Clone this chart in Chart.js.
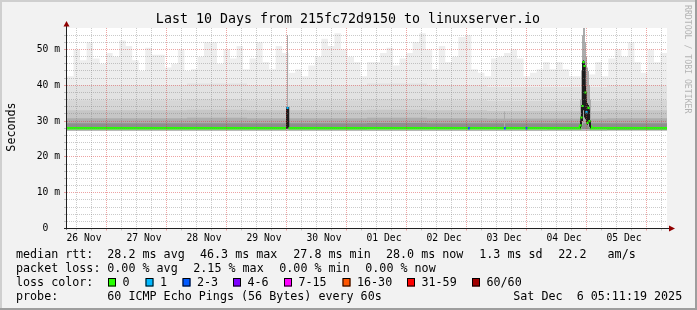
<!DOCTYPE html>
<html>
<head>
<meta charset="utf-8">
<script src="https://cdn.jsdelivr.net/npm/chart.js@4.4.1/dist/chart.umd.min.js"></script>
<style>
  html, body { margin: 0; padding: 0; background: #f2f2f2; }
  canvas { display: block; }
</style>
</head>
<body>
<canvas id="smoke" width="697" height="310"></canvas>
<script>
// x values are hours after the graph start (Nov 26 05:11:19)
var periodHours = 240;
var firstMidnightHour = 18.81;
var dayLabels = ['26 Nov', '27 Nov', '28 Nov', '29 Nov', '30 Nov', '01 Dec', '02 Dec', '03 Dec', '04 Dec', '05 Dec'];

// highest pings per time bucket (ms), equal buckets over the 10 days
var smokeMax = [42.5, 50, 47, 52, 47.5, 46, 49, 48, 52.5, 51, 47, 44, 50.5, 48.5, 48.5, 45, 46, 50, 44, 44.5, 48, 52, 52, 46,
  50, 47.5, 51, 44.5, 47.5, 52, 46.5, 44.5, 51, 49, 43.5, 44.5, 42.5, 45.5, 48, 53, 51, 54.5, 50, 48, 46.5, 42.5, 46.5,
  46.5, 49, 50.5, 45.5, 47.5, 49, 52, 54.5, 50, 44.5, 51, 46.5, 48, 53.5, 54, 44.5, 43.5, 42.5, 47.5, 48, 49, 50, 47.5,
  42.5, 43.5, 44.5, 46.5, 44.5, 46.5, 44.5, 42.5, 42.5, 41.5, 43, 46.5, 42.5, 47.5, 50, 48, 52, 46.5, 43.5, 50, 46.5, 49];

// inner smoke layers, one value per day (ms)
var smokeP90 = [40, 40, 40.5, 40, 40, 40.5, 40, 39.5, 39.5, 40];
var smokeP75 = [35.8, 35.8, 36, 35.8, 35.8, 36, 35.8, 35.6, 35.6, 35.8];
var smokeP65 = [33, 33, 33.2, 33, 33, 33.2, 33, 32.8, 32.8, 33];
var smokeP58 = [30.8, 30.8, 30.9, 30.8, 30.8, 30.9, 30.8, 30.7, 30.7, 30.8];
var smokeP52 = [29.4, 29.4, 29.4, 29.4, 29.4, 29.5, 29.4, 29.4, 29.4, 29.4];
var smokeLow = [27.7, 27.7, 27.7, 27.7, 27.7, 27.8, 27.8, 27.8, 27.7, 27.6];
var smokeMin = [27.3, 27.3, 27.3, 27.3, 27.3, 27.4, 27.4, 27.4, 27.3, 27.2];

// median rtt (ms), each value holds until the next hour listed; loss is an index into lossColors
var medianHours = [0, 87.6, 88.0, 88.6, 160.6, 161.0, 175.0, 175.4, 183.6, 184.0,
  205.2, 205.6, 206.0, 206.4, 206.8, 207.2, 207.6, 208.0, 208.4, 208.8, 209.2, 209.6, 240];
var medianMs = [28.0, 28.0, 33.7, 28.0, 28.0, 28.0, 28.0, 28.0, 28.0, 28.0,
  28.8, 31.0, 34.2, 46.5, 45.4, 38.0, 32.5, 29.5, 33.7, 30.0, 28.4, 28.0, 28.0];
var medianLoss = [0, 0, 1, 0, 2, 0, 2, 0, 2, 0,
  0, 0, 0, 0, 0, 0, 1, 0, 0, 0, 0, 0, 0];

// single columns of smoke where the pings spread out
var spikeHours = [88.2, 175.0, 205.4, 205.8, 206.2, 206.6, 207.0, 207.4, 207.8, 208.2, 208.6, 209.0, 209.4];
var spikeLo = [33.7, 28.0, 27.5, 27.8, 29.0, 30.5, 30.5, 30.0, 29.5, 29.0, 28.5, 28.0, 27.6];
var spikeHi = [54.0, 32.7, 36, 44, 54, 56, 56, 52, 48, 45, 44, 40, 36];
var coreHours = [87.8, 88.2, 205.4, 205.8, 206.2, 206.6, 207.0, 207.4, 207.8, 208.2, 208.6, 209.0, 209.4];
var coreLo = [28.3, 28.3, 28.0, 28.5, 30.0, 33.0, 31.0, 30.5, 29.5, 29.0, 29.5, 28.5, 28.0];
var coreHi = [33.7, 33.7, 30.0, 34.5, 46.5, 47.0, 46.0, 40.0, 36.0, 35.0, 34.5, 33.0, 30.0];

var lossLabels = ['0', '1', '2-3', '4-6', '7-15', '16-30', '31-59', '60/60'];
var lossColors = ['#26ff00', '#00b8ff', '#0059ff', '#7e00ff', '#ff00ff', '#ff5500', '#ff0000', '#a10000'];

var titleText = 'Last 10 Days from 215fc72d9150 to linuxserver.io';
var rttStats = ['28.2 ms avg', '46.3 ms max', '27.8 ms min', '28.0 ms now', '1.3 ms sd', '22.2   am/s'];
var lossStats = ['0.00 % avg', '2.15 % max', '0.00 % min', '0.00 % now'];
var probeText = '60 ICMP Echo Pings (56 Bytes) every 60s';
var stampText = 'Sat Dec  6 05:11:19 2025';

var mono = '"DejaVu Sans Mono", "Liberation Mono", monospace';
var minorGrid = 'rgba(128,128,128,0.42)';
var majorGrid = 'rgba(215,50,50,0.45)';

function steps(values, width) {
  var pts = values.map(function (v, i) { return { x: i * width, y: v }; });
  pts.push({ x: periodHours, y: values[values.length - 1] });
  return pts;
}
function daily(values) { return steps(values, 24); }
function pairs(xs, ys) { return xs.map(function (x, i) { return { x: x, y: ys[i] }; }); }
function ranges(xs, lo, hi) { return xs.map(function (x, i) { return { x: x, y: [lo[i], hi[i]] }; }); }

function layer(values, color, order, width) {
  return {
    type: 'line', data: width ? steps(values, width) : daily(values), stepped: true,
    fill: 1, backgroundColor: color, borderColor: 'rgba(0,0,0,0)', borderWidth: 0,
    pointRadius: 0, order: order
  };
}

function inSpike(c) { return c.p0.parsed.y > 29 || c.p1.parsed.y > 29; }

var dots = [];
medianHours.forEach(function (h, i) {
  if (medianLoss[i] > 0 || medianMs[i] > 28.5) dots.push({ x: h + 0.2, y: medianMs[i], loss: medianLoss[i] });
});

var decor = {
  id: 'decor',
  beforeDraw: function (chart) {
    var ctx = chart.ctx, a = chart.chartArea, W = chart.width, H = chart.height;
    ctx.save();
    ctx.fillStyle = '#f2f2f2'; ctx.fillRect(0, 0, W, H);
    ctx.fillStyle = '#cfcfcf'; ctx.fillRect(0, 0, W, 2); ctx.fillRect(0, 0, 2, H);
    ctx.fillStyle = '#9e9e9e'; ctx.fillRect(0, H - 2, W, 2); ctx.fillRect(W - 2, 0, 2, H);
    ctx.fillStyle = '#ffffff'; ctx.fillRect(a.left, a.top, a.right - a.left, a.bottom - a.top);
    ctx.restore();
  },
  afterDraw: function (chart) {
    var ctx = chart.ctx, a = chart.chartArea;
    ctx.save();
    // axes with arrows
    ctx.strokeStyle = '#202020'; ctx.lineWidth = 1;
    ctx.beginPath();
    ctx.moveTo(a.left - 0.5, a.bottom + 1); ctx.lineTo(a.left - 0.5, a.top - 2);
    ctx.moveTo(a.left - 3, a.bottom); ctx.lineTo(a.right + 3, a.bottom);
    ctx.stroke();
    ctx.fillStyle = '#900000';
    ctx.beginPath();
    ctx.moveTo(a.left - 0.5, a.top - 7); ctx.lineTo(a.left - 3.5, a.top - 1.5); ctx.lineTo(a.left + 2.5, a.top - 1.5);
    ctx.closePath(); ctx.fill();
    ctx.beginPath();
    ctx.moveTo(a.right + 8, a.bottom); ctx.lineTo(a.right + 2, a.bottom - 3); ctx.lineTo(a.right + 2, a.bottom + 3);
    ctx.closePath(); ctx.fill();

    ctx.fillStyle = '#000';
    ctx.textBaseline = 'alphabetic';
    ctx.font = '13.3px ' + mono;
    ctx.textAlign = 'center';
    ctx.fillText(titleText, 348, 23.3);

    ctx.save();
    ctx.font = '11.7px ' + mono;
    ctx.translate(15, 127);
    ctx.rotate(-Math.PI / 2);
    ctx.fillText('Seconds', 0, 0);
    ctx.restore();

    ctx.save();
    ctx.fillStyle = '#b4b4b4';
    ctx.font = '8.2px ' + mono;
    ctx.textAlign = 'left';
    ctx.translate(685, 5);
    ctx.rotate(Math.PI / 2);
    ctx.fillText('RRDTOOL / TOBI OETIKER', 0, 0);
    ctx.restore();

    // legend
    ctx.font = '11.7px ' + mono;
    ctx.textAlign = 'left';
    var rttX = [107.3, 200, 293.3, 386, 479.3, 558.3];
    var lossX = [107.3, 193.3, 279.3, 365.3];
    ctx.fillText('median rtt:', 16, 258.3);
    rttStats.forEach(function (t, i) { ctx.fillText(t, rttX[i], 258.3); });
    ctx.fillText('packet loss:', 16, 272.3);
    lossStats.forEach(function (t, i) { ctx.fillText(t, lossX[i], 272.3); });
    ctx.fillText('loss color:', 16, 286.3);
    var boxX = [108, 145.5, 182.5, 233, 284, 342.5, 407, 472];
    lossLabels.forEach(function (t, i) {
      ctx.fillStyle = lossColors[i];
      ctx.fillRect(boxX[i], 278.5, 8, 8);
      ctx.strokeStyle = '#000'; ctx.lineWidth = 1;
      ctx.strokeRect(boxX[i] + 0.5, 278.5, 7, 7.5);
      ctx.fillStyle = '#000';
      ctx.fillText(t, boxX[i] + 14.5, 286.3);
    });
    ctx.fillText('probe:', 16, 300.3);
    ctx.fillText(probeText, 107.3, 300.3);
    ctx.fillText(stampText, 513.3, 300.3);
    ctx.restore();
  }
};

new Chart(document.getElementById('smoke'), {
  type: 'line',
  data: {
    datasets: [
      {
        type: 'line', data: pairs(medianHours, medianMs), stepped: true, fill: false,
        borderWidth: 2.5, pointRadius: 0, order: 2, borderColor: lossColors[0],
        segment: {
          borderColor: function (c) { return inSpike(c) ? '#1c1c1c' : lossColors[medianLoss[c.p0DataIndex]]; },
          borderWidth: function (c) { return inSpike(c) ? 1.5 : 2.5; }
        }
      },
      { type: 'line', data: daily(smokeMin), stepped: true, fill: false, borderWidth: 0, borderColor: 'rgba(0,0,0,0)', pointRadius: 0, order: 20 },
      layer(smokeLow, '#c4c4c4', 3),
      layer(smokeP52, '#8e8e8e', 4),
      layer(smokeP58, '#adadad', 5),
      layer(smokeP65, '#c6c6c6', 6),
      layer(smokeP75, '#d6d6d6', 7),
      layer(smokeP90, '#e2e2e2', 8),
      layer(smokeMax, '#eeeeee', 9, periodHours / smokeMax.length),
      {
        type: 'bar', data: ranges(spikeHours, spikeLo, spikeHi), backgroundColor: '#ababab',
        barThickness: 1, grouped: false, inflateAmount: 0, borderWidth: 0, order: 2.5
      },
      {
        type: 'bar', data: ranges(coreHours, coreLo, coreHi), backgroundColor: '#1c1c1c',
        barThickness: 1, grouped: false, inflateAmount: 0, borderWidth: 0, order: 1
      },
      {
        type: 'line', data: dots, showLine: false, pointStyle: 'rect', pointRadius: 1.5, pointBorderWidth: 0,
        pointBackgroundColor: function (c) { return c.raw ? lossColors[c.raw.loss] : lossColors[0]; }, order: 0
      }
    ]
  },
  options: {
    responsive: false,
    animation: false,
    events: [],
    layout: { padding: { top: 28, right: 30, left: 0, bottom: 0 } },
    plugins: { legend: { display: false }, tooltip: { enabled: false }, title: { display: false } },
    scales: {
      x: {
        type: 'linear', min: 0, max: periodHours, offset: false,
        afterFit: function (s) { s.height = 81.5; },
        afterBuildTicks: function (s) {
          var t = [];
          for (var h = firstMidnightHour - 18; h <= periodHours; h += 6) t.push({ value: h });
          s.ticks = t;
        },
        ticks: {
          autoSkip: false, maxRotation: 0, minRotation: 0, padding: 2.5, color: '#000',
          font: { family: mono, size: 9.7 },
          callback: function (v, i) { return i % 4 === 1 ? dayLabels[(i - 1) / 4] : ''; }
        },
        grid: {
          z: 1, tickLength: 2, lineWidth: 1,
          color: function (c) { return c.index % 4 === 3 ? majorGrid : minorGrid; }
        },
        border: { display: false, dash: [1, 1] }
      },
      y: {
        type: 'linear', min: 0, max: 56,
        afterFit: function (s) { s.width = 67; },
        afterBuildTicks: function (s) {
          var t = [];
          for (var v = 0; v <= 54; v += 2) t.push({ value: v });
          s.ticks = t;
        },
        ticks: {
          autoSkip: false, padding: 4, color: '#000', font: { family: mono, size: 9.7 },
          callback: function (v) { return v % 10 === 0 ? (v === 0 ? '0  ' : v + ' m') : ''; }
        },
        grid: {
          z: 1, tickLength: 3, lineWidth: 1,
          color: function (c) { return c.tick && c.tick.value % 10 === 0 ? majorGrid : minorGrid; }
        },
        border: { display: false, dash: [1, 1] }
      }
    }
  },
  plugins: [decor]
});
</script>
</body>
</html>
